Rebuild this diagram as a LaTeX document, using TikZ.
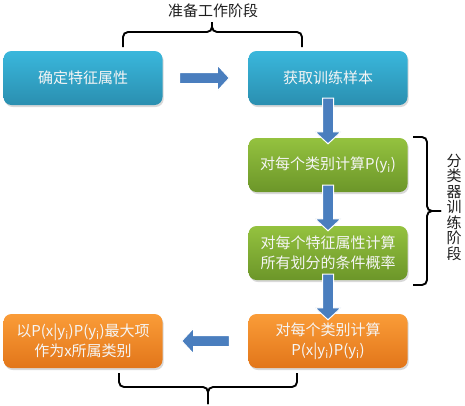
\documentclass[tikz,border=0pt]{standalone}
\usepackage{fontspec}
\setmainfont{Noto Sans CJK SC}
\usetikzlibrary{calc,shadows}
\definecolor{bluetop}{HTML}{3AB7DC}
\definecolor{bluebot}{HTML}{2A8FB0}
\definecolor{greentop}{HTML}{94C23F}
\definecolor{greenbot}{HTML}{6C9629}
\definecolor{orangetop}{HTML}{FA9C38}
\definecolor{orangebot}{HTML}{E2761A}
\definecolor{arrblue}{HTML}{4A7EBE}
\definecolor{labelcol}{HTML}{1E1E1E}
\newcommand\mysubi{\textsubscript{i}}
\newcommand\blockarr[2]{%
  \coordinate (hb) at ($(#2)!12pt!(#1)$);
  \foreach \dx/\sty in {1.6/arrshade,0/arrbody}{%
  \path[\sty,shift={(\dx,\dx)}]
    ($(#1)!5.5pt!90:(#2)$) -- ($(hb)!5.5pt!-90:(#1)$) -- ($(hb)!13pt!-90:(#1)$)
    -- (#2) -- ($(hb)!13pt!90:(#1)$) -- ($(hb)!5.5pt!90:(#1)$)
    -- ($(#1)!5.5pt!-90:(#2)$) -- cycle;}%
}
\begin{document}
\begin{tikzpicture}[x=1pt,y=-1pt,
  box/.style={rounded corners=8pt, minimum width=159pt, minimum height=54pt,
    inner sep=0pt, align=center, text=white!96!black,
    font=\fontsize{15}{20}\selectfont,
    drop shadow={shadow xshift=1.2pt, shadow yshift=-2pt, opacity=0.3}},
  bluebox/.style={box, top color=bluetop, bottom color=bluebot},
  greenbox/.style={box, top color=greentop, bottom color=greenbot},
  orangebox/.style={box, top color=orangetop, bottom color=orangebot},
  arrshade/.style={fill=black, opacity=0.18},
  arrbody/.style={fill=arrblue, draw=white, line width=1pt},
  brace/.style={draw=black, line width=1.9pt, rounded corners=5pt},
  lbl/.style={text=labelcol, font=\fontsize{15}{20}\selectfont, inner sep=0pt}
]
\useasboundingbox (0,0) rectangle (465,405);

\node[bluebox] (b1) at (83,78) {确定特征属性};
\node[bluebox] (b2) at (328,78) {获取训练样本};
\node[greenbox] (g1) at (328,165) {对每个类别计算P(y\mysubi)};
\node[greenbox] (g2) at (328,253) {对每个特征属性计算\\所有划分的条件概率};
\node[orangebox] (o2) at (328,341) {对每个类别计算\\P(x|y\mysubi)P(y\mysubi)};
\node[orangebox] (o1) at (83,341) {以P(x|y\mysubi)P(y\mysubi)最大项\\作为x所属类别};

% block arrows
\coordinate (a1s) at ($(b1.east)+(17,0)$);
\coordinate (a1t) at ($(b2.west)+(-19,0)$);
\blockarr{a1s}{a1t}
\coordinate (a2s) at ($(b2.south)+(0,-7)$);
\coordinate (a2t) at ($(g1.north)+(0,6)$);
\blockarr{a2s}{a2t}
\coordinate (a3s) at ($(g1.south)+(0,-7)$);
\coordinate (a3t) at ($(g2.north)+(0,5)$);
\blockarr{a3s}{a3t}
\coordinate (a4s) at ($(g2.south)+(0,-6)$);
\coordinate (a4t) at ($(o2.north)+(0,6)$);
\blockarr{a4s}{a4t}
\coordinate (a5s) at ($(o2.west)+(-19,0)$);
\coordinate (a5t) at ($(o1.east)+(19,0)$);
\blockarr{a5s}{a5t}

% braces
\draw[brace] (123,47) |- (212,32) -- (212,22);
\draw[brace] (302,47) |- (212,32) -- (212,22);
\node[lbl] (toplbl) at (213,11) {准备工作阶段};

\draw[brace] (119,373) |- (208,387) -- (208,404);
\draw[brace] (297,373) |- (208,387) -- (208,404);

\draw[brace] (413,137) -| (427,211) -- (441,211);
\draw[brace] (413,285) -| (427,211) -- (441,211);
\node[lbl, align=center, font=\fontsize{15}{15.5}\selectfont] (rlbl) at (454,207)
  {分\\类\\器\\训\\练\\阶\\段};
\end{tikzpicture}
\end{document}
